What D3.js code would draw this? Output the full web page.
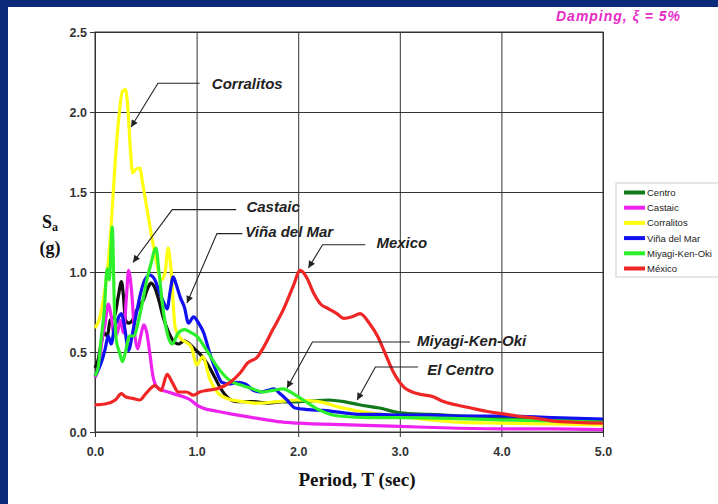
<!DOCTYPE html>
<html>
<head>
<meta charset="utf-8">
<script src="https://cdn.jsdelivr.net/npm/d3@7"></script>
<style>
  html, body { margin: 0; padding: 0; background: #0b2a7a; }
  svg { display: block; }
</style>
</head>
<body>
<svg id="chart" width="718" height="504"></svg>
<script>
// --- data: period T (sec), Sa (g) ---
const centro = [[0,0.4],[0.03,0.45],[0.06,0.55],[0.09,0.62],[0.12,0.6],[0.15,0.7],[0.19,0.72],[0.23,0.85],[0.26,0.94],[0.28,0.85],[0.3,0.7],[0.33,0.68],[0.37,0.7],[0.41,0.76],[0.45,0.8],[0.48,0.83],[0.52,0.9],[0.55,0.93],[0.59,0.9],[0.63,0.82],[0.67,0.72],[0.72,0.63],[0.77,0.57],[0.82,0.55],[0.88,0.57],[0.93,0.55],[0.98,0.52],[1.03,0.49],[1.08,0.45],[1.13,0.4],[1.18,0.34],[1.23,0.28],[1.3,0.22],[1.4,0.19],[1.55,0.19],[1.7,0.18],[1.85,0.19],[2.0,0.19],[2.15,0.195],[2.3,0.2],[2.45,0.19],[2.6,0.17],[2.8,0.15],[3.0,0.12],[3.3,0.11],[3.6,0.1],[4.0,0.09],[4.5,0.08],[5.0,0.07]];
const castaic = [[0,0.34],[0.04,0.42],[0.07,0.58],[0.1,0.68],[0.13,0.8],[0.16,0.72],[0.19,0.6],[0.22,0.62],[0.25,0.7],[0.28,0.62],[0.31,0.85],[0.33,1.01],[0.36,0.88],[0.39,0.62],[0.42,0.52],[0.45,0.6],[0.48,0.67],[0.51,0.62],[0.54,0.49],[0.57,0.35],[0.61,0.28],[0.67,0.26],[0.72,0.25],[0.77,0.24],[0.87,0.22],[0.94,0.2],[1.0,0.17],[1.06,0.15],[1.2,0.13],[1.36,0.11],[1.6,0.085],[1.8,0.065],[2.0,0.055],[2.5,0.045],[3.0,0.035],[3.5,0.025],[4.0,0.02],[4.5,0.02],[5.0,0.015]];
const corralitos = [[0,0.65],[0.04,0.7],[0.08,0.82],[0.12,1.0],[0.16,1.3],[0.2,1.7],[0.24,2.0],[0.27,2.13],[0.3,2.14],[0.32,2.05],[0.35,1.75],[0.37,1.62],[0.4,1.64],[0.44,1.65],[0.47,1.55],[0.51,1.4],[0.55,1.25],[0.6,1.08],[0.65,0.95],[0.69,1.0],[0.72,1.15],[0.75,1.0],[0.79,0.65],[0.85,0.58],[0.9,0.56],[0.95,0.53],[1.0,0.42],[1.06,0.47],[1.13,0.33],[1.2,0.25],[1.3,0.21],[1.45,0.19],[1.6,0.18],[1.8,0.19],[2.0,0.2],[2.2,0.19],[2.44,0.15],[2.7,0.12],[3.0,0.1],[3.3,0.075],[3.6,0.06],[4.0,0.055],[4.5,0.05],[5.0,0.045]];
const vinaDelMar = [[0,0.35],[0.04,0.4],[0.07,0.45],[0.1,0.52],[0.13,0.6],[0.16,0.55],[0.19,0.65],[0.22,0.7],[0.26,0.74],[0.29,0.66],[0.33,0.51],[0.37,0.62],[0.41,0.75],[0.45,0.87],[0.49,0.95],[0.54,0.98],[0.59,0.95],[0.63,0.88],[0.67,0.82],[0.71,0.77],[0.74,0.88],[0.77,0.97],[0.8,0.92],[0.84,0.84],[0.88,0.78],[0.92,0.68],[0.97,0.72],[1.02,0.68],[1.07,0.62],[1.13,0.49],[1.2,0.37],[1.25,0.31],[1.32,0.3],[1.4,0.31],[1.48,0.3],[1.56,0.26],[1.63,0.25],[1.7,0.26],[1.76,0.27],[1.82,0.24],[1.89,0.2],[1.97,0.15],[2.1,0.14],[2.25,0.135],[2.45,0.12],[2.6,0.11],[2.8,0.11],[3.0,0.105],[3.3,0.105],[3.6,0.1],[4.0,0.1],[4.5,0.09],[5.0,0.08]];
const miyagi = [[0,0.35],[0.03,0.4],[0.06,0.58],[0.09,0.75],[0.12,1.02],[0.14,0.95],[0.17,1.28],[0.19,0.8],[0.21,0.57],[0.24,0.5],[0.27,0.44],[0.3,0.5],[0.34,0.6],[0.38,0.6],[0.43,0.7],[0.47,0.82],[0.51,0.95],[0.55,1.05],[0.6,1.15],[0.63,1.0],[0.66,0.82],[0.71,0.62],[0.76,0.55],[0.82,0.62],[0.88,0.64],[0.95,0.62],[1.0,0.6],[1.1,0.51],[1.2,0.41],[1.33,0.32],[1.45,0.29],[1.55,0.27],[1.65,0.25],[1.75,0.26],[1.85,0.27],[1.95,0.24],[2.05,0.2],[2.2,0.14],[2.4,0.1],[2.7,0.09],[3.0,0.09],[3.5,0.085],[4.0,0.075],[4.5,0.07],[5.0,0.06]];
const mexico = [[0,0.17],[0.1,0.175],[0.2,0.2],[0.26,0.24],[0.3,0.22],[0.37,0.21],[0.44,0.2],[0.5,0.24],[0.59,0.29],[0.65,0.26],[0.71,0.36],[0.76,0.31],[0.82,0.25],[0.9,0.25],[0.97,0.23],[1.03,0.25],[1.1,0.26],[1.2,0.27],[1.33,0.31],[1.43,0.37],[1.5,0.43],[1.6,0.47],[1.66,0.53],[1.75,0.64],[1.85,0.76],[1.95,0.91],[2.02,1.01],[2.08,0.97],[2.15,0.87],[2.22,0.8],[2.3,0.77],[2.38,0.74],[2.45,0.71],[2.53,0.72],[2.61,0.74],[2.7,0.68],[2.78,0.6],[2.85,0.5],[2.94,0.37],[3.04,0.28],[3.17,0.24],[3.33,0.22],[3.43,0.19],[3.55,0.17],[3.7,0.15],[3.85,0.13],[4.0,0.115],[4.15,0.1],[4.3,0.09],[4.5,0.07],[4.75,0.06],[5.0,0.055]];

const seriesNames = ["Centro", "Castaic", "Corralitos", "Viña del Mar", "Miyagi-Ken-Oki", "México"];
const seriesData = [centro, castaic, corralitos, vinaDelMar, miyagi, mexico];
const seriesColors = ["#127a1c", "#ee22ee", "#ffff10", "#1010f0", "#2cf02c", "#f02626"];

const xTicks = [0, 1, 2, 3, 4, 5];
const yTicks = [0, 0.5, 1, 1.5, 2, 2.5];

// callouts: label, text anchor [T, Sa], elbow start/end of the leader, arrow tip
const callouts = [
  { label: "Corralitos",     text: [1.15, 2.175], elbow: [0.62, 2.18], lineEnd: [1.03, 2.18],  tip: [0.355, 1.906] },
  { label: "Castaic",        text: [1.49, 1.41],  elbow: [0.76, 1.39], lineEnd: [1.39, 1.39],  tip: [0.374, 1.06] },
  { label: "Viña del Mar",   text: [1.48, 1.25],  elbow: [1.2, 1.24],  lineEnd: [1.45, 1.24],  tip: [0.905, 0.806] },
  { label: "Mexico",         text: [2.77, 1.18],  elbow: [2.24, 1.17], lineEnd: [2.66, 1.17],  tip: [2.1, 1.025] },
  { label: "Miyagi-Ken-Oki", text: [3.17, 0.57],  elbow: [2.14, 0.5625], lineEnd: [3.1, 0.5625], tip: [1.89, 0.275] },
  { label: "El Centro",      text: [3.27, 0.39],  elbow: [2.76, 0.406], lineEnd: [3.18, 0.406], tip: [2.58, 0.2] }
];

const svg = d3.select("#chart");
const margin = { left: 95, top: 32, right: 115, bottom: 72 };
const width = 718 - margin.left - margin.right;   // 508
const height = 504 - margin.top - margin.bottom;  // 400

// white panel inside the blue frame
svg.append("rect").attr("x", 8).attr("y", 7).attr("width", 710).attr("height", 497).attr("fill", "#fff");

const x = d3.scaleLinear().domain([0, 5]).range([0, width]);
const y = d3.scaleLinear().domain([0, 2.5]).range([height, 0]);

const g = svg.append("g").attr("transform", "translate(" + margin.left + "," + margin.top + ")");

// grid
g.append("g")
  .attr("class", "grid")
  .call(d3.axisLeft(y).tickValues(yTicks).tickSize(-width).tickFormat(""))
  .call(s => s.select(".domain").remove())
  .selectAll("line").attr("stroke", "#333").attr("stroke-width", 1);
g.append("g")
  .attr("class", "grid")
  .attr("transform", "translate(0," + height + ")")
  .call(d3.axisBottom(x).tickValues(xTicks).tickSize(-height).tickFormat(""))
  .call(s => s.select(".domain").remove())
  .selectAll("line").attr("stroke", "#333").attr("stroke-width", 1);

// axes
const yAxis = g.append("g")
  .call(d3.axisLeft(y).tickValues(yTicks).tickSize(5).tickPadding(3).tickFormat(d3.format(".1f")));
const xAxis = g.append("g")
  .attr("transform", "translate(0," + height + ")")
  .call(d3.axisBottom(x).tickValues(xTicks).tickSize(5).tickPadding(10).tickFormat(d3.format(".1f")));
[yAxis, xAxis].forEach(a => {
  a.selectAll("path, line").attr("stroke", "#333");
  a.selectAll("text").attr("font-family", "Liberation Sans, Arial, sans-serif")
    .attr("font-size", 12.5).attr("font-weight", "bold").attr("fill", "#333");
});

// frame
g.append("rect").attr("width", width).attr("height", height)
  .attr("fill", "none").attr("stroke", "#333").attr("stroke-width", 1);

// curves
const line = d3.line()
  .x(d => x(d[0]))
  .y(d => y(d[1]))
  .curve(d3.curveMonotoneX);

const plot = g.append("g");
seriesData.forEach((data, i) => {
  if (i === 0) {
    // Centro prints black at short periods, dark green after ~2 s
    plot.append("path").datum(data.filter(d => d[0] <= 2.0))
      .attr("d", line).attr("fill", "none").attr("stroke", "#111").attr("stroke-width", 3.2);
    plot.append("path").datum(data.filter(d => d[0] >= 1.85))
      .attr("d", line).attr("fill", "none").attr("stroke", seriesColors[0]).attr("stroke-width", 3.2);
  } else {
    plot.append("path").datum(data)
      .attr("d", line).attr("fill", "none").attr("stroke", seriesColors[i])
      .attr("stroke-width", 3.2).attr("stroke-linejoin", "round");
  }
});

// callouts
svg.append("defs").append("marker")
  .attr("id", "arrow").attr("viewBox", "0 0 10 10")
  .attr("refX", 10).attr("refY", 5)
  .attr("markerWidth", 9).attr("markerHeight", 7)
  .attr("markerUnits", "userSpaceOnUse")
  .attr("orient", "auto")
  .append("path").attr("d", "M0,0 L10,5 L0,10 Z").attr("fill", "#222");

const ann = g.append("g");
callouts.forEach(c => {
  ann.append("polyline")
    .attr("points", [c.lineEnd, c.elbow, c.tip].map(p => x(p[0]) + "," + y(p[1])).join(" "))
    .attr("fill", "none").attr("stroke", "#222").attr("stroke-width", 1.1)
    .attr("marker-end", "url(#arrow)");
  ann.append("text")
    .attr("x", x(c.text[0])).attr("y", y(c.text[1]))
    .attr("dy", "0.35em")
    .attr("font-family", "Liberation Sans, Arial, sans-serif")
    .attr("font-size", 15).attr("font-weight", "bold").attr("font-style", "italic")
    .attr("fill", "#222")
    .text(c.label);
});

// legend
const legend = svg.append("g").attr("transform", "translate(616,183)");
legend.append("rect").attr("width", 110).attr("height", 94)
  .attr("fill", "#fff").attr("stroke", "#ccc");
seriesNames.forEach((name, i) => {
  const row = legend.append("g").attr("transform", "translate(0," + (9.5 + i * 15.2) + ")");
  row.append("line").attr("x1", 8).attr("x2", 29).attr("y1", 0).attr("y2", 0)
    .attr("stroke", seriesColors[i]).attr("stroke-width", 4);
  row.append("text").attr("x", 31).attr("y", 3.5)
    .attr("font-family", "Liberation Sans, Arial, sans-serif")
    .attr("font-size", 9.5).attr("fill", "#222").text(name);
});

// titles
svg.append("text")
  .attr("x", 357).attr("y", 486).attr("text-anchor", "middle")
  .attr("font-family", "Liberation Serif, Times New Roman, serif")
  .attr("font-size", 19).attr("font-weight", "bold").attr("fill", "#111")
  .text("Period, T (sec)");

const sa = svg.append("text")
  .attr("x", 50).attr("y", 228).attr("text-anchor", "middle")
  .attr("font-family", "Liberation Serif, Times New Roman, serif")
  .attr("font-size", 18).attr("font-weight", "bold").attr("fill", "#111");
sa.append("tspan").text("S");
sa.append("tspan").attr("font-size", 12).attr("dy", 3).text("a");
svg.append("text")
  .attr("x", 50).attr("y", 254).attr("text-anchor", "middle")
  .attr("font-family", "Liberation Serif, Times New Roman, serif")
  .attr("font-size", 18).attr("font-weight", "bold").attr("fill", "#111")
  .text("(g)");

svg.append("text")
  .attr("x", 556).attr("y", 21)
  .attr("font-family", "Liberation Sans, Arial, sans-serif")
  .attr("font-size", 14).attr("font-weight", "bold").attr("font-style", "italic")
  .attr("fill", "#e62cc8")
  .attr("textLength", 124).attr("lengthAdjust", "spacing")
  .text("Damping, ξ = 5%");
</script>
</body>
</html>
